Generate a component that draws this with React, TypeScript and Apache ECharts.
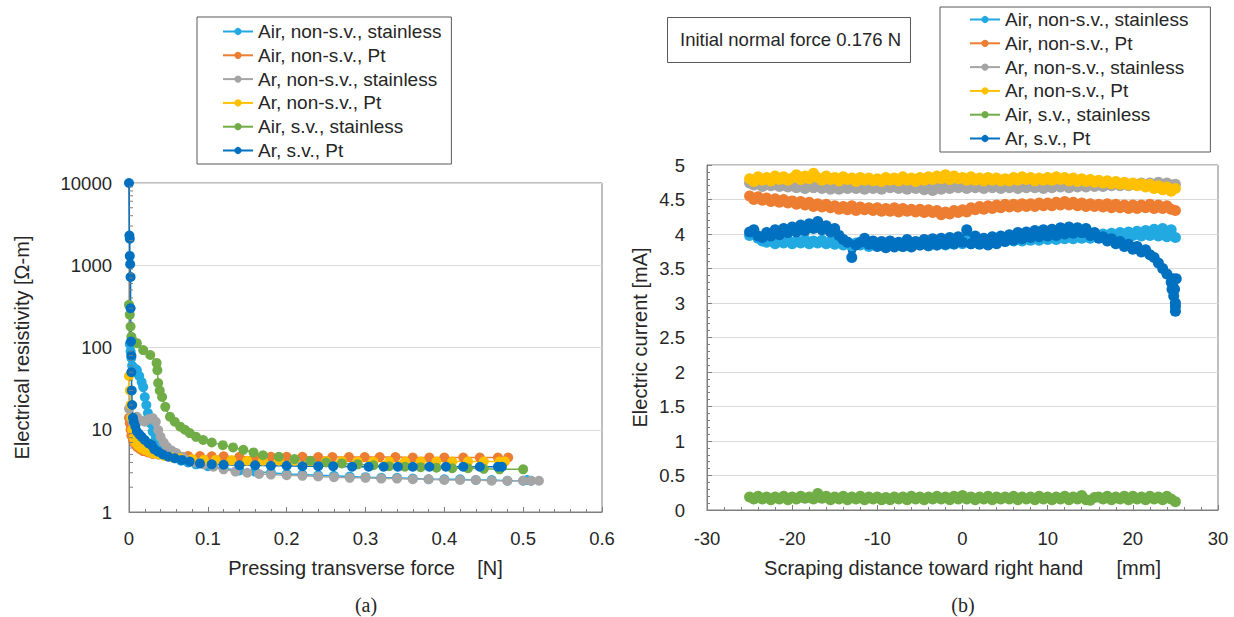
import React, { useEffect, useRef } from "react";
import * as echarts from "echarts";

const seriesNames = [
  "Air, non-s.v., stainless",
  "Air, non-s.v., Pt",
  "Ar, non-s.v., stainless",
  "Ar, non-s.v., Pt",
  "Air, s.v., stainless",
  "Ar, s.v., Pt",
];
const seriesColors = ["#22A9E2", "#ED7D31", "#A5A5A5", "#FFC000", "#70AD47", "#0070C0"];

// ---------- (a) resistivity vs pressing transverse force ----------
const airNsvSsForce = [0.001, 0.002, 0.003, 0.004, 0.006, 0.008, 0.010, 0.013, 0.016, 0.018, 0.020, 0.022, 0.024, 0.027, 0.030, 0.034, 0.038, 0.043, 0.050, 0.058, 0.066, 0.075, 0.085, 0.10, 0.12, 0.14, 0.16, 0.18, 0.20, 0.22, 0.24, 0.26, 0.28, 0.30, 0.32, 0.34, 0.36, 0.38, 0.40, 0.42, 0.44, 0.46, 0.48, 0.50, 0.505, 0.51];
const airNsvSsRes = [110, 90, 75, 60, 50, 55, 53, 45, 38, 33, 25, 20, 16, 12, 9.5, 8.0, 6.8, 5.8, 5.0, 4.5, 4.2, 4.0, 3.8, 3.6, 3.4, 3.2, 3.1, 3.0, 2.9, 2.85, 2.8, 2.75, 2.7, 2.65, 2.6, 2.6, 2.55, 2.5, 2.5, 2.5, 2.45, 2.45, 2.4, 2.4, 2.45, 2.4];

const airNsvPtForce = [0.0, 0.001, 0.002, 0.003, 0.005, 0.007, 0.010, 0.014, 0.018, 0.024, 0.030, 0.038, 0.048, 0.06, 0.075, 0.09, 0.105, 0.12, 0.14, 0.16, 0.18, 0.20, 0.22, 0.24, 0.258, 0.279, 0.299, 0.318, 0.338, 0.36, 0.381, 0.40, 0.424, 0.445, 0.468, 0.481];
const airNsvPtRes = [14, 12, 10, 8.5, 7.5, 6.8, 6.2, 5.8, 5.5, 5.3, 5.1, 5.0, 4.9, 4.85, 4.8, 4.8, 4.75, 4.75, 4.7, 4.7, 4.7, 4.7, 4.7, 4.65, 4.65, 4.65, 4.65, 4.65, 4.65, 4.6, 4.6, 4.6, 4.6, 4.6, 4.6, 4.6];

const arNsvSsForce = [0.0, 0.002, 0.005, 0.010, 0.015, 0.020, 0.025, 0.030, 0.034, 0.037, 0.040, 0.044, 0.048, 0.054, 0.060, 0.068, 0.076, 0.085, 0.095, 0.107, 0.12, 0.135, 0.15, 0.165, 0.18, 0.20, 0.22, 0.24, 0.26, 0.28, 0.30, 0.32, 0.34, 0.36, 0.38, 0.40, 0.42, 0.44, 0.46, 0.48, 0.50, 0.51, 0.52];
const arNsvSsRes = [18, 14, 12, 14.4, 13, 12.5, 13.5, 13.9, 12.5, 9.9, 8.2, 7.0, 6.2, 5.6, 5.2, 4.7, 4.3, 4.0, 3.8, 3.55, 3.3, 3.1, 3.0, 2.9, 2.85, 2.8, 2.75, 2.7, 2.65, 2.6, 2.6, 2.55, 2.55, 2.5, 2.5, 2.45, 2.45, 2.45, 2.4, 2.4, 2.4, 2.4, 2.4];

const arNsvPtForce = [0.0, 0.001, 0.002, 0.003, 0.004, 0.006, 0.008, 0.011, 0.015, 0.02, 0.025, 0.03, 0.037, 0.045, 0.055, 0.065, 0.08, 0.095, 0.11, 0.13, 0.15, 0.17, 0.19, 0.21, 0.23, 0.25, 0.27, 0.29, 0.31, 0.33, 0.35, 0.37, 0.39, 0.41, 0.43, 0.45, 0.47, 0.477];
const arNsvPtRes = [45, 30, 20, 14, 10, 8, 7, 6.5, 6.0, 5.7, 5.4, 5.2, 5.0, 4.8, 4.6, 4.5, 4.4, 4.3, 4.3, 4.25, 4.2, 4.2, 4.2, 4.2, 4.15, 4.15, 4.15, 4.1, 4.1, 4.1, 4.1, 4.1, 4.1, 4.1, 4.1, 4.1, 4.1, 4.1];

const airSvSsForce = [0.0, 0.001, 0.002, 0.003, 0.005, 0.010, 0.018, 0.027, 0.035, 0.036, 0.037, 0.039, 0.042, 0.046, 0.052, 0.058, 0.065, 0.071, 0.077, 0.085, 0.094, 0.105, 0.119, 0.132, 0.145, 0.158, 0.17, 0.19, 0.21, 0.23, 0.25, 0.27, 0.29, 0.31, 0.33, 0.35, 0.37, 0.39, 0.41, 0.43, 0.45, 0.47, 0.50];
const airSvSsRes = [330, 250, 180, 135, 120, 113, 93, 81, 65, 53, 37, 30, 25, 19, 14.4, 12.5, 10.9, 10.0, 9.1, 8.2, 7.5, 7.0, 6.5, 6.1, 5.7, 5.3, 4.9, 4.7, 4.4, 4.2, 4.0, 3.9, 3.8, 3.7, 3.6, 3.55, 3.5, 3.45, 3.4, 3.4, 3.35, 3.3, 3.3];

const arSvPtForce = [0.0, 0.0005, 0.001, 0.001, 0.0015, 0.002, 0.002, 0.0025, 0.003, 0.003, 0.0035, 0.004, 0.005, 0.006, 0.008, 0.010, 0.013, 0.016, 0.020, 0.025, 0.029, 0.032, 0.037, 0.043, 0.05, 0.058, 0.067, 0.077, 0.09, 0.105, 0.12, 0.14, 0.16, 0.18, 0.20, 0.22, 0.24, 0.259, 0.283, 0.304, 0.323, 0.341, 0.36, 0.381, 0.402, 0.424, 0.445, 0.468, 0.473];
const arSvPtRes = [10000, 2300, 2100, 1300, 1030, 720, 300, 118, 80, 50, 30, 20, 14, 12.5, 11, 9.5, 8.8, 8.2, 7.5, 6.8, 6.5, 5.8, 5.4, 5.0, 4.7, 4.5, 4.3, 4.1, 3.9, 3.8, 3.75, 3.7, 3.7, 3.65, 3.65, 3.6, 3.6, 3.6, 3.55, 3.55, 3.55, 3.55, 3.55, 3.55, 3.55, 3.55, 3.55, 3.55, 3.55];

const logMinorTicks = [2, 3, 4, 5, 6, 7, 8, 9, 20, 30, 40, 50, 60, 70, 80, 90, 200, 300, 400, 500, 600, 700, 800, 900, 2000, 3000, 4000, 5000, 6000, 7000, 8000, 9000];

// ---------- (b) current vs scraping distance (0.5 mm steps) ----------
const distance = [
  -25, -24.5, -24, -23.5, -23, -22.5, -22, -21.5, -21, -20.5,
  -20, -19.5, -19, -18.5, -18, -17.5, -17, -16.5, -16, -15.5,
  -15, -14.5, -14, -13.5, -13, -12.5, -12, -11.5, -11, -10.5,
  -10, -9.5, -9, -8.5, -8, -7.5, -7, -6.5, -6, -5.5,
  -5, -4.5, -4, -3.5, -3, -2.5, -2, -1.5, -1, -0.5,
  0, 0.5, 1, 1.5, 2, 2.5, 3, 3.5, 4, 4.5,
  5, 5.5, 6, 6.5, 7, 7.5, 8, 8.5, 9, 9.5,
  10, 10.5, 11, 11.5, 12, 12.5, 13, 13.5, 14, 14.5,
  15, 15.5, 16, 16.5, 17, 17.5, 18, 18.5, 19, 19.5,
  20, 20.5, 21, 21.5, 22, 22.5, 23, 23.5, 24, 24.5,
  25,
];
const airNsvSsCurrent = [
  3.98, 4.02, 3.94, 3.90, 3.88, 3.92, 3.86, 3.90, 3.87, 3.91,
  3.86, 3.90, 3.87, 3.92, 3.86, 3.90, 3.87, 3.91, 3.86, 3.89,
  3.85, 3.89, 3.84, 3.88, 3.83, 3.87, 3.84, 3.88, 3.82, 3.86,
  3.83, 3.87, 3.82, 3.86, 3.83, 3.87, 3.82, 3.86, 3.83, 3.87,
  3.84, 3.88, 3.83, 3.87, 3.84, 3.89, 3.84, 3.88, 3.85, 3.89,
  3.86, 3.90, 3.86, 3.91, 3.87, 3.91, 3.88, 3.92, 3.88, 3.93,
  3.89, 3.94, 3.90, 3.94, 3.90, 3.95, 3.91, 3.95, 3.91, 3.96,
  3.92, 3.96, 3.92, 3.97, 3.93, 3.97, 3.93, 3.98, 3.94, 3.98,
  3.94, 3.99, 3.95, 4.00, 3.96, 4.01, 3.96, 4.02, 3.97, 4.03,
  3.98, 4.04, 3.97, 4.05, 3.98, 4.07, 3.97, 4.08, 3.96, 4.06,
  3.95,
];
const airNsvPtCurrent = [
  4.55, 4.50, 4.54, 4.49, 4.52, 4.47, 4.51, 4.46, 4.50, 4.45,
  4.48, 4.43, 4.47, 4.42, 4.46, 4.40, 4.44, 4.39, 4.43, 4.38,
  4.41, 4.36, 4.40, 4.35, 4.41, 4.34, 4.39, 4.35, 4.38, 4.34,
  4.38, 4.33, 4.37, 4.33, 4.38, 4.32, 4.37, 4.33, 4.36, 4.32,
  4.36, 4.31, 4.35, 4.31, 4.34, 4.28, 4.32, 4.29, 4.34, 4.31,
  4.35, 4.32, 4.38, 4.35, 4.40, 4.36, 4.41, 4.37, 4.42, 4.38,
  4.43, 4.39, 4.43, 4.39, 4.44, 4.40, 4.44, 4.40, 4.45, 4.41,
  4.45, 4.41, 4.46, 4.42, 4.47, 4.42, 4.46, 4.41, 4.45, 4.40,
  4.44, 4.40, 4.43, 4.39, 4.44, 4.38, 4.43, 4.38, 4.42, 4.37,
  4.42, 4.37, 4.42, 4.38, 4.43, 4.37, 4.42, 4.37, 4.41, 4.36,
  4.34,
];
const arNsvSsCurrent = [
  4.74, 4.71, 4.73, 4.69, 4.72, 4.70, 4.73, 4.69, 4.71, 4.68,
  4.71, 4.67, 4.70, 4.66, 4.70, 4.67, 4.71, 4.66, 4.69, 4.65,
  4.69, 4.65, 4.68, 4.66, 4.70, 4.66, 4.69, 4.65, 4.70, 4.66,
  4.69, 4.65, 4.70, 4.67, 4.71, 4.66, 4.69, 4.65, 4.70, 4.66,
  4.69, 4.64, 4.68, 4.63, 4.67, 4.65, 4.70, 4.66, 4.71, 4.67,
  4.70, 4.66, 4.71, 4.67, 4.70, 4.66, 4.71, 4.67, 4.70, 4.66,
  4.70, 4.67, 4.71, 4.66, 4.70, 4.67, 4.71, 4.67, 4.70, 4.66,
  4.70, 4.67, 4.71, 4.68, 4.72, 4.67, 4.71, 4.68, 4.72, 4.68,
  4.72, 4.69, 4.73, 4.69, 4.72, 4.70, 4.73, 4.70, 4.74, 4.70,
  4.73, 4.71, 4.74, 4.70, 4.74, 4.71, 4.75, 4.71, 4.74, 4.71,
  4.72,
];
const arNsvPtCurrent = [
  4.80, 4.76, 4.83, 4.78, 4.82, 4.77, 4.84, 4.79, 4.83, 4.78,
  4.81, 4.86, 4.79, 4.84, 4.80, 4.88, 4.82, 4.78, 4.84, 4.79,
  4.82, 4.77, 4.83, 4.79, 4.81, 4.76, 4.82, 4.78, 4.81, 4.77,
  4.80, 4.76, 4.82, 4.78, 4.81, 4.77, 4.83, 4.78, 4.81, 4.76,
  4.82, 4.78, 4.83, 4.79, 4.84, 4.80, 4.86, 4.79, 4.84, 4.80,
  4.82, 4.78, 4.83, 4.78, 4.81, 4.77, 4.82, 4.78, 4.81, 4.77,
  4.80, 4.77, 4.82, 4.78, 4.83, 4.79, 4.82, 4.77, 4.81, 4.78,
  4.82, 4.78, 4.83, 4.79, 4.82, 4.77, 4.81, 4.76, 4.80, 4.76,
  4.79, 4.75, 4.78, 4.74, 4.77, 4.73, 4.76, 4.72, 4.75, 4.71,
  4.74, 4.70, 4.73, 4.68, 4.72, 4.66, 4.70, 4.64, 4.68, 4.62,
  4.66,
];
const airSvSsCurrent = [
  0.19, 0.16, 0.20, 0.16, 0.19, 0.15, 0.19, 0.16, 0.20, 0.15,
  0.19, 0.16, 0.20, 0.17, 0.19, 0.16, 0.24, 0.17, 0.20, 0.15,
  0.19, 0.16, 0.20, 0.15, 0.19, 0.16, 0.20, 0.15, 0.19, 0.16,
  0.19, 0.15, 0.18, 0.15, 0.19, 0.16, 0.19, 0.15, 0.20, 0.16,
  0.19, 0.15, 0.19, 0.16, 0.20, 0.16, 0.19, 0.15, 0.20, 0.16,
  0.21, 0.16, 0.19, 0.15, 0.19, 0.16, 0.20, 0.15, 0.19, 0.16,
  0.19, 0.16, 0.20, 0.15, 0.19, 0.16, 0.19, 0.15, 0.20, 0.16,
  0.19, 0.15, 0.19, 0.16, 0.20, 0.15, 0.19, 0.16, 0.21, 0.15,
  0.14, 0.18, 0.19, 0.16, 0.20, 0.15, 0.19, 0.16, 0.20, 0.15,
  0.20, 0.16, 0.19, 0.15, 0.20, 0.16, 0.19, 0.15, 0.20, 0.16,
  0.12,
];
const arSvPtCurrent = [
  4.03, 4.06, 3.97, 3.95, 4.02, 3.97, 4.06, 3.99, 4.08, 4.02,
  4.10, 4.03, 4.13, 4.05, 4.15, 4.08, 4.18, 4.06, 4.12, 4.03,
  4.08, 3.98, 3.92, 3.88, 3.66, 3.84, 3.88, 3.94, 3.85, 3.90,
  3.82, 3.89, 3.80, 3.90, 3.81, 3.88, 3.82, 3.92, 3.81, 3.89,
  3.84, 3.92, 3.83, 3.93, 3.84, 3.94, 3.85, 3.95, 3.86, 3.96,
  3.88, 4.06, 3.86, 3.97, 3.85, 3.94, 3.84, 3.96, 3.86, 3.97,
  3.89, 3.99, 3.91, 4.02, 3.93, 4.03, 3.95, 4.05, 3.96, 4.06,
  3.97, 4.07, 3.98, 4.09, 4.00, 4.10, 4.01, 4.09, 4.02, 4.08,
  3.98, 4.02, 3.94, 3.96, 3.90, 3.93, 3.86, 3.89, 3.82, 3.85,
  3.78, 3.82, 3.74, 3.77, 3.70, 3.66, 3.58, 3.50, 3.42, 3.30,
  2.95,
];
const arSvPtTailDistance = [24.6, 24.7, 24.8, 24.9, 25.0, 25.0, 25.1];
const arSvPtTailCurrent = [3.2, 3.35, 3.1, 3.2, 3.0, 2.88, 3.35];

const FONT = "'Liberation Sans', Arial, sans-serif";
const SERIF = "'Liberation Serif', 'DejaVu Serif', serif";
const TEXT = "#262626";
const FRAME = "#7f7f7f";

function pairs(xs: number[], ys: number[]) {
  return xs.map((x, i) => [x, ys[i]]);
}

export default function App() {
  const ref = useRef<HTMLDivElement>(null);

  useEffect(() => {
    const chart = echarts.init(ref.current!, null, { renderer: "svg" });

    const leftData = [
      pairs(airNsvSsForce, airNsvSsRes),
      pairs(airNsvPtForce, airNsvPtRes),
      pairs(arNsvSsForce, arNsvSsRes),
      pairs(arNsvPtForce, arNsvPtRes),
      pairs(airSvSsForce, airSvSsRes),
      pairs(arSvPtForce, arSvPtRes),
    ];
    const arSvPtPairs = pairs(distance, arSvPtCurrent)
      .concat(pairs(arSvPtTailDistance, arSvPtTailCurrent))
      .sort((a, b) => a[0] - b[0]);
    const rightData = [
      pairs(distance, airNsvSsCurrent),
      pairs(distance, airNsvPtCurrent),
      pairs(distance, arNsvSsCurrent),
      pairs(distance, arNsvPtCurrent),
      pairs(distance, airSvSsCurrent),
      arSvPtPairs,
    ];

    const axisLabel = { color: TEXT, fontSize: 18.5, fontFamily: FONT };
    const nameStyle = { color: TEXT, fontSize: 20, fontFamily: FONT };

    const legendCommon = {
      orient: "vertical",
      data: seriesNames,
      selectedMode: false,
      itemWidth: 30,
      itemHeight: 9,
      itemGap: 4.8,
      borderColor: "#595959",
      borderWidth: 1,
      textStyle: { color: TEXT, fontSize: 19, fontFamily: FONT, lineHeight: 19 },
    };

    const option: any = {
      animation: false,
      backgroundColor: "#ffffff",
      textStyle: { fontFamily: FONT },
      grid: [
        { left: 129, top: 183, width: 473, height: 329, show: true, borderColor: FRAME, borderWidth: 1, backgroundColor: "transparent" },
        { left: 707, top: 165, width: 511, height: 345, show: true, borderColor: FRAME, borderWidth: 1, backgroundColor: "transparent" },
      ],
      legend: [
        { ...legendCommon, left: 197, top: 17, padding: [5, 10, 4, 25] },
        { ...legendCommon, left: 940, top: 7, padding: [3, 22, 4, 29] },
      ],
      xAxis: [
        {
          gridIndex: 0, type: "value", min: 0, max: 0.6, interval: 0.1,
          name: "Pressing transverse force    [N]", nameLocation: "middle", nameGap: 46, nameTextStyle: nameStyle,
          axisLine: { show: true, lineStyle: { color: FRAME } },
          axisTick: { show: true, inside: true, length: 5, lineStyle: { color: FRAME } },
          minorTick: { show: true, splitNumber: 5, length: 3, lineStyle: { color: FRAME } },
          axisLabel: { ...axisLabel, margin: 17 },
          splitLine: { show: false },
        },
        {
          gridIndex: 1, type: "value", min: -30, max: 30, interval: 10,
          name: "Scraping distance toward right hand      [mm]", nameLocation: "middle", nameGap: 48, nameTextStyle: nameStyle,
          axisLine: { show: true, lineStyle: { color: FRAME } },
          axisTick: { show: true, inside: true, length: 5, lineStyle: { color: FRAME } },
          minorTick: { show: true, splitNumber: 5, length: 3, lineStyle: { color: FRAME } },
          axisLabel: { ...axisLabel, margin: 19 },
          splitLine: { show: false },
        },
      ],
      yAxis: [
        {
          gridIndex: 0, type: "log", logBase: 10, min: 1, max: 10000,
          name: "Electrical resistivity [Ω-m]", nameLocation: "middle", nameGap: 97, nameTextStyle: nameStyle,
          axisLine: { show: true, onZero: false, lineStyle: { color: FRAME } },
          axisTick: { show: true, inside: true, length: 5, lineStyle: { color: FRAME } },
          axisLabel: { ...axisLabel, margin: 17, formatter: (v: number) => String(Math.round(v)) },
          splitLine: { show: true, lineStyle: { color: "#d9d9d9" } },
        },
        {
          gridIndex: 1, type: "value", min: 0, max: 5, interval: 0.5,
          name: "Electric current [mA]", nameLocation: "middle", nameGap: 57, nameTextStyle: nameStyle,
          axisLine: { show: true, onZero: false, lineStyle: { color: FRAME } },
          axisTick: { show: true, inside: true, length: 5, lineStyle: { color: FRAME } },
          minorTick: { show: true, splitNumber: 5, length: 3, lineStyle: { color: FRAME } },
          axisLabel: { ...axisLabel, margin: 22 },
          splitLine: { show: true, lineStyle: { color: "#d9d9d9" } },
        },
      ],
      graphic: [
        {
          type: "rect", left: 667, top: 17, shape: { width: 243, height: 45 },
          style: { fill: "#ffffff", stroke: "#595959", lineWidth: 1 },
        },
        {
          type: "text", left: 680, top: 30,
          style: { text: "Initial normal force 0.176 N", fill: TEXT, font: `18.5px ${FONT}` },
        },
        {
          type: "text", x: 366, y: 605,
          style: { text: "(a)", fill: TEXT, font: `20px ${SERIF}`, align: "center", verticalAlign: "middle" },
        },
        {
          type: "text", x: 963, y: 605,
          style: { text: "(b)", fill: TEXT, font: `20px ${SERIF}`, align: "center", verticalAlign: "middle" },
        },
      ],
      series: [
        ...leftData.map((d, i) => ({
          name: seriesNames[i], type: "line", xAxisIndex: 0, yAxisIndex: 0, data: d,
          symbol: "circle", symbolSize: 10, showSymbol: true,
          lineStyle: { color: seriesColors[i], width: 1.5 },
          itemStyle: { color: seriesColors[i] },
          emphasis: { disabled: true },
        })),
        {
          type: "custom", xAxisIndex: 0, yAxisIndex: 0, silent: true, clip: false, z: 5,
          data: logMinorTicks.map((v) => [0, v]),
          renderItem: (_params: any, api: any) => {
            const p = api.coord([0, api.value(1)]);
            return {
              type: "line",
              shape: { x1: p[0], y1: p[1], x2: p[0] + 4, y2: p[1] },
              style: { stroke: FRAME, lineWidth: 1 },
            };
          },
        },
        ...rightData.map((d, i) => ({
          name: seriesNames[i], type: "line", xAxisIndex: 1, yAxisIndex: 1, data: d,
          symbol: "circle", symbolSize: 11, showSymbol: true,
          lineStyle: { color: seriesColors[i], width: 4 },
          itemStyle: { color: seriesColors[i] },
          emphasis: { disabled: true },
        })),
      ],
    };

    chart.setOption(option);
    return () => chart.dispose();
  }, []);

  return (
    <div
      ref={ref}
      style={{ position: "fixed", left: 0, top: 0, width: 1234, height: 617, background: "#ffffff" }}
    />
  );
}
